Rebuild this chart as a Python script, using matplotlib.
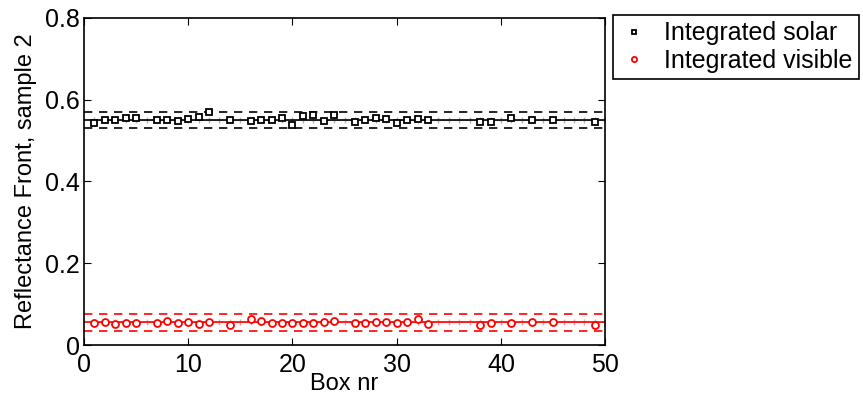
import matplotlib
matplotlib.use("Agg")
import matplotlib.pyplot as plt

plt.rcParams['font.family'] = ['Liberation Sans', 'DejaVu Sans']

# dados
boxes = [1, 2, 3, 4, 5, 7, 8, 9, 10, 11, 12, 14, 16, 17, 18, 19, 20, 21, 22, 23, 24,
         26, 27, 28, 29, 30, 31, 32, 33, 38, 39, 41, 43, 45, 49]
solar = [0.542, 0.550, 0.550, 0.555, 0.555, 0.550, 0.550, 0.548, 0.552, 0.557, 0.570,
         0.549, 0.548, 0.550, 0.550, 0.556, 0.539, 0.560, 0.562, 0.548, 0.562,
         0.546, 0.551, 0.556, 0.553, 0.543, 0.551, 0.553, 0.551, 0.546, 0.546,
         0.555, 0.550, 0.550, 0.546]
visible = [0.053, 0.056, 0.051, 0.054, 0.054, 0.054, 0.059, 0.053, 0.056, 0.051, 0.057,
           0.050, 0.063, 0.058, 0.053, 0.054, 0.054, 0.054, 0.054, 0.056, 0.059,
           0.054, 0.054, 0.056, 0.056, 0.054, 0.056, 0.063, 0.051, 0.050, 0.054,
           0.054, 0.056, 0.056, 0.050]
solar_mean, solar_band = 0.550, 0.020
vis_mean, vis_band = 0.0555, 0.020
all_boxes = list(range(1, 51))

fig = plt.figure(figsize=(8.63, 4.05), dpi=100)
ax = fig.add_axes([0.0973, 0.148, 0.604, 0.808])

# linhas de média e faixas
for m, b, c, lc in [(solar_mean, solar_band, 'black', '#b0b0b0'),
                    (vis_mean, vis_band, 'red', '#ffa0a0')]:
    ax.plot(all_boxes, [m] * len(all_boxes), color=lc, marker='|', ms=5, lw=0.8, zorder=1)
    ax.plot([0, 50], [m, m], color=c, lw=1.2, zorder=2)
    ax.plot([0, 50], [m + b, m + b], color=c, lw=1.2, ls=(0, (5, 4)), zorder=2)
    ax.plot([0, 50], [m - b, m - b], color=c, lw=1.2, ls=(0, (5, 4)), zorder=2)

ax.plot(boxes, solar, 's', mfc='white', mec='black', ms=4.5, mew=1.3,
        label='Integrated solar', zorder=3)
ax.plot(boxes, visible, 'o', mfc='white', mec='red', ms=5, mew=1.3,
        label='Integrated visible', zorder=3)

ax.set_xlim(0, 50)
ax.set_ylim(0, 0.8)
ax.set_xticks([0, 10, 20, 30, 40, 50])
ax.set_yticks([0, 0.2, 0.4, 0.6, 0.8])
ax.set_yticklabels(['0', '0.2', '0.4', '0.6', '0.8'])
ax.tick_params(direction='in', top=True, right=True, labelsize=18, length=5, pad=3)
ax.tick_params(axis='x', pad=6)
for s in ax.spines.values():
    s.set_linewidth(1.2)
ax.set_xlabel('Box nr', fontsize=17, labelpad=-3)
ax.set_ylabel('Reflectance Front, sample 2', fontsize=17, labelpad=6)

leg = fig.legend(loc='upper left', bbox_to_anchor=(613 / 863, 1 - 15 / 405),
                 borderaxespad=0, fontsize=18, fancybox=False, edgecolor='black',
                 framealpha=1, handletextpad=0.6, borderpad=0.25, labelspacing=0.15,
                 handlelength=1.2, markerscale=0.75)
leg.get_frame().set_linewidth(1.2)

fig.savefig('out.png', dpi=100)
